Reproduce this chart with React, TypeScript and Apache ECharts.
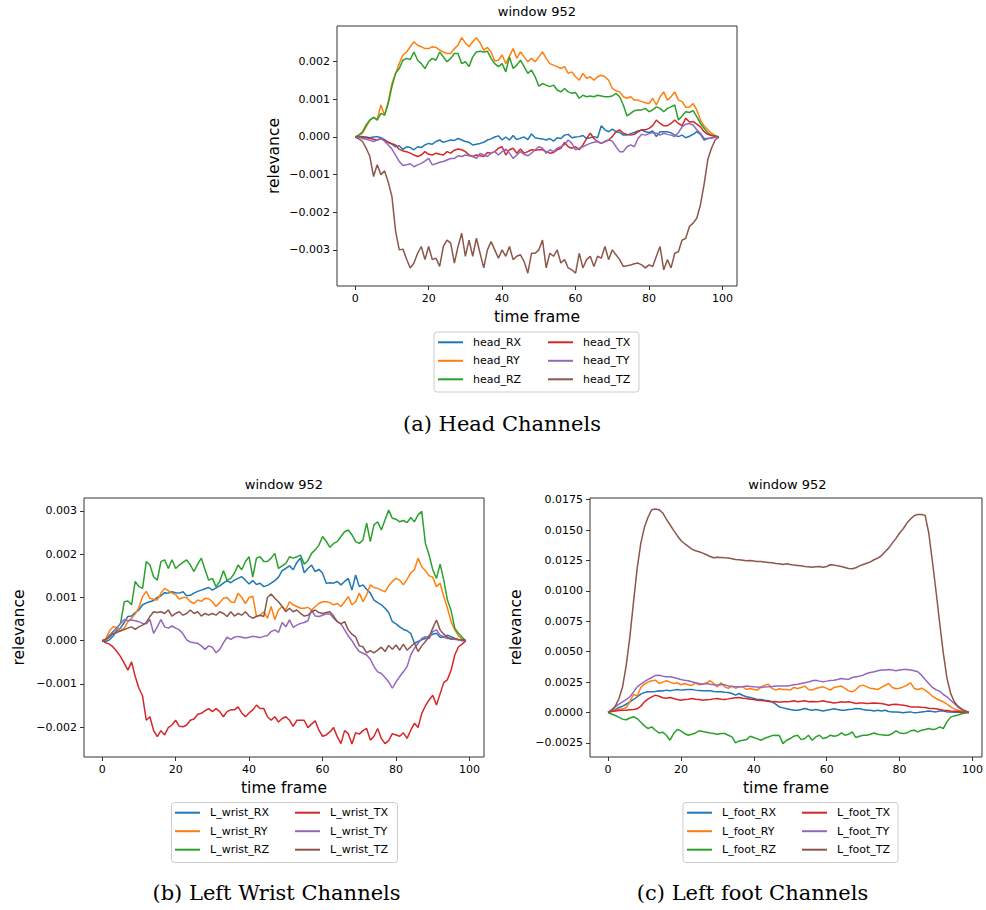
import React, { useEffect, useRef } from "react";
import * as echarts from "echarts";

// time-frame index of each sample (0..99)
const TIME_FRAMES = Array.from({ length: 100 }, (_, i) => i);

// all relevance values below are in units of 1e-5
const HEAD_NAMES = ["head_RX", "head_RY", "head_RZ", "head_TX", "head_TY", "head_TZ"];
const head_RX = [0,1,1,0,-2,0,1,-2,-7,-14,-19,-26,-23,-33,-26,-28,-34,-26,-28,-21,-17,-19,-12,-8,-14,-11,-8,-9,-4,-8,-12,-14,-21,-19,-17,-14,-8,-5,0,3,-8,0,-8,4,-7,-3,0,-7,8,-2,-4,
  -5,-8,-4,-11,-2,-4,5,7,-2,0,1,4,-4,-2,1,-2,30,19,14,21,14,12,5,5,9,12,16,19,14,12,16,1,14,14,14,11,5,1,5,-2,2,7,14,7,-8,-4,-3,-1,0];
const head_RY = [0,5,10,27,45,52,47,85,58,94,142,169,195,218,226,240,253,244,240,235,235,240,238,231,226,222,222,235,244,264,250,240,253,264,250,231,238,226,202,204,218,195,215,235,209,226,213,200,209,200,213,
  226,209,195,191,187,182,187,169,173,160,151,169,156,160,151,160,164,160,151,129,123,120,107,103,107,98,98,94,91,89,103,85,107,120,98,107,120,98,94,79,79,89,72,45,29,19,10,4,0];
const head_RZ = [0,5,14,32,45,52,45,63,58,89,134,169,182,204,209,206,226,204,195,182,200,209,204,226,213,200,209,222,222,195,200,187,213,226,228,226,228,209,195,187,195,173,213,182,191,204,187,169,178,160,135,
  142,138,134,138,125,120,129,120,116,118,103,111,107,109,107,111,109,107,107,109,116,107,85,56,63,70,72,72,76,67,72,80,76,67,76,80,85,45,56,67,65,70,54,36,23,11,5,3,0];
const head_TX = [0,0,-1,-2,-4,-6,-8,-4,-9,-14,-18,-21,-33,-37,-39,-43,-48,-52,-48,-39,-46,-48,-43,-46,-48,-39,-43,-35,-32,-34,-39,-48,-52,-48,-50,-52,-41,-43,-39,-30,-26,-48,-34,-30,-43,-32,-43,-39,-34,-35,-34,
  -34,-39,-43,-41,-34,-30,-14,-26,-30,-26,-34,-21,-4,10,-4,-12,-17,-12,-8,1,14,19,10,7,5,7,14,19,19,23,30,45,36,30,30,36,45,36,30,50,40,41,34,27,14,7,4,1,0];
const head_TY = [0,-1,-4,-6,-9,-12,-8,-4,-11,-21,-32,-48,-65,-76,-74,-71,-79,-74,-70,-64,-57,-74,-71,-67,-65,-61,-57,-57,-50,-52,-48,-50,-52,-57,-44,-48,-52,-43,-39,-48,-39,-32,-43,-57,-48,-39,-46,-50,-43,-34,-26,
  -30,-43,-34,-39,-30,-26,-21,-8,-17,-34,-30,-26,-21,-17,-14,-12,-17,-12,-8,-11,-26,-39,-39,-26,-21,-26,-4,7,5,9,12,10,5,10,7,5,1,12,27,34,36,32,19,10,-4,-4,-2,-1,0];
const head_TZ = [0,-5,-12,-30,-52,-105,-74,-100,-90,-120,-158,-250,-300,-298,-325,-348,-335,-309,-291,-326,-291,-326,-322,-344,-291,-274,-282,-335,-291,-256,-317,-274,-317,-269,-309,-348,-300,-278,-300,-322,-300,-317,-291,-326,-317,-313,-331,-362,-309,-309,-300,
  -274,-348,-309,-317,-300,-335,-326,-348,-353,-362,-309,-348,-326,-317,-344,-317,-322,-291,-326,-300,-313,-326,-344,-342,-340,-337,-335,-340,-348,-340,-344,-317,-291,-353,-326,-348,-309,-305,-274,-269,-238,-229,-216,-180,-125,-60,-30,-8,0];

const WRIST_NAMES = ["L_wrist_RX", "L_wrist_RY", "L_wrist_RZ", "L_wrist_TX", "L_wrist_TY", "L_wrist_TZ"];
const wrist_RX = [0,-2,2,11,23,29,42,56,57,65,71,83,87,90,93,100,104,111,110,113,111,110,113,104,105,110,114,117,120,123,117,122,127,133,139,134,140,144,148,140,131,139,130,133,125,128,133,139,147,162,167,
  173,164,181,191,157,167,175,160,165,156,133,134,133,137,129,137,144,117,152,125,129,119,110,94,88,83,75,65,44,39,32,26,23,17,-6,-2,2,5,11,15,17,8,8,13,9,5,2,0,0];
const wrist_RY = [0,5,23,32,31,22,29,44,52,62,77,102,114,98,96,94,110,121,116,110,107,96,100,100,90,86,94,91,98,97,90,79,88,98,100,90,88,110,100,86,100,103,57,59,67,52,79,49,71,79,71,
  90,83,79,75,75,77,71,79,86,90,90,88,83,86,79,90,102,83,90,110,90,106,129,123,121,117,113,127,137,144,140,129,142,157,164,191,171,162,150,147,125,133,102,75,44,25,11,4,0];
const wrist_RZ = [0,2,9,21,29,40,90,92,83,137,125,121,183,175,148,140,183,187,167,187,167,175,181,187,175,160,177,191,164,140,144,125,137,162,140,144,156,175,164,183,194,147,191,194,183,183,191,202,167,173,179,
  194,191,194,198,177,185,202,210,221,241,230,216,225,229,241,252,256,245,229,225,233,272,229,268,275,256,279,302,283,281,275,278,273,285,275,291,299,225,198,164,144,177,140,94,69,29,17,8,0];
const wrist_TX = [0,-5,-8,-15,-25,-37,-52,-68,-49,-83,-110,-128,-184,-176,-208,-222,-208,-218,-201,-195,-184,-198,-199,-195,-184,-181,-170,-168,-162,-157,-164,-157,-164,-176,-164,-160,-160,-153,-167,-176,-167,-160,-149,-157,-157,-176,-184,-176,-188,-180,-176,
  -184,-198,-184,-184,-184,-201,-193,-185,-207,-221,-218,-211,-201,-222,-238,-208,-215,-239,-213,-216,-208,-203,-230,-221,-203,-226,-238,-231,-215,-218,-221,-213,-226,-207,-191,-201,-168,-151,-137,-126,-149,-123,-97,-90,-68,-33,-14,-8,0];
const wrist_TY = [0,3,13,21,29,40,49,46,48,46,44,40,39,49,17,32,49,32,29,34,29,25,16,2,-3,-5,-6,-12,-20,-12,-15,-28,-20,-5,8,3,8,10,8,6,8,10,9,7,10,12,21,25,19,42,32,
  48,31,36,40,42,46,71,57,56,59,62,62,52,44,39,25,11,0,-14,-25,-29,-33,-43,-60,-72,-76,-85,-95,-110,-95,-83,-72,-60,-33,-18,-6,5,9,5,21,25,13,9,5,5,3,2,1,0];
const wrist_TZ = [0,3,9,16,19,23,26,29,32,26,32,36,42,56,67,65,67,63,71,57,63,67,59,63,71,63,67,57,63,59,63,59,67,63,56,67,57,63,59,67,57,52,56,59,56,100,108,98,90,79,67,
  75,67,71,63,57,59,67,71,65,63,65,67,57,44,39,44,25,15,9,-12,-14,-28,-23,-28,-22,-15,-25,-11,-20,-10,-22,-8,-22,-14,-6,-25,-12,-2,9,29,48,25,15,8,3,5,3,2,0];

const FOOT_NAMES = ["L_foot_RX", "L_foot_RY", "L_foot_RZ", "L_foot_TX", "L_foot_TY", "L_foot_TZ"];
const foot_RX = [0,13,24,41,52,68,88,107,129,151,165,170,170,173,178,176,184,178,184,189,184,187,189,189,184,181,178,178,178,173,170,170,167,165,156,143,156,140,129,123,
  115,107,107,101,96,88,68,46,38,30,24,19,19,24,33,24,19,24,19,13,19,24,30,24,19,19,24,27,33,30,24,19,19,13,19,13,19,8,5,5,2,-3,2,5,-3,0,5,8,13,8,5,13,13,5,5,2,2,2,2,0];
const foot_RY = [0,13,19,24,30,41,88,150,135,205,233,250,261,266,239,250,261,250,239,244,228,239,228,222,244,228,233,244,261,239,211,244,211,198,217,200,211,211,189,198,
  189,184,211,225,233,198,184,195,189,189,184,206,198,206,217,189,184,198,206,211,198,184,206,211,217,198,178,170,189,217,225,211,200,195,189,206,222,239,206,195,200,211,225,244,198,189,200,184,162,134,115,101,88,68,46,30,19,13,8,0];
const foot_RZ = [0,-12,-25,-40,-55,-60,-45,-35,-50,-80,-110,-132,-118,-146,-168,-162,-187,-228,-173,-140,-151,-173,-187,-179,-168,-151,-157,-162,-168,-173,-179,-173,-173,-187,-201,-250,-234,-228,-223,-195,
  -206,-217,-228,-212,-201,-190,-187,-190,-256,-228,-214,-195,-187,-223,-214,-187,-228,-201,-187,-214,-206,-187,-195,-190,-168,-187,-179,-159,-206,-195,-187,-187,-179,-168,-179,-184,-187,-187,-173,-151,-168,-173,-168,-151,-146,-159,-146,-140,-132,-140,-135,-118,-132,-75,-38,-28,-20,-10,-5,0];
const foot_TX = [0,8,13,16,19,19,22,24,30,52,88,112,129,143,134,121,118,123,115,107,101,107,109,115,109,107,101,104,107,112,115,109,107,112,118,121,123,118,115,109,
  107,101,99,96,90,88,90,85,88,88,90,96,88,93,96,88,90,88,90,96,88,85,79,82,88,85,88,82,74,79,79,74,77,79,77,74,68,60,66,68,63,60,55,46,46,46,43,41,35,33,30,24,19,16,13,11,8,5,5,0];
const foot_TY = [0,24,46,68,88,107,129,170,211,233,253,272,288,305,307,299,294,294,288,280,272,266,261,253,244,239,233,239,233,228,225,231,228,217,214,211,211,211,217,214,
  211,209,206,209,211,214,217,217,217,217,222,228,233,239,244,250,261,266,258,253,258,264,266,272,280,275,272,288,294,299,307,321,329,335,343,349,349,354,349,343,349,354,354,349,343,335,307,272,239,206,187,176,148,129,101,74,46,24,11,0];
const foot_TZ = [0,19,52,115,212,390,624,912,1187,1393,1525,1608,1668,1674,1668,1641,1591,1544,1498,1454,1415,1388,1366,1344,1330,1322,1311,1297,1283,1272,1277,1275,1272,1270,1264,1258,1256,1253,1248,1250,1245,1242,1242,1237,1234,1231,1226,1223,1217,1223,1217,
  1212,1209,1206,1201,1198,1195,1198,1201,1195,1201,1215,1212,1206,1201,1193,1184,1182,1190,1206,1217,1228,1239,1256,1270,1289,1322,1352,1393,1432,1476,1511,1558,1591,1618,1629,1629,1621,1476,1242,995,734,486,280,157,88,52,30,14,0];

const X_TICKS = [0, 20, 40, 60, 80, 100];
const HEAD_Y_TICKS = [-300, -200, -100, 0, 100, 200];
const WRIST_Y_TICKS = [-200, -100, 0, 100, 200, 300];
const FOOT_Y_TICKS = [-250, 0, 250, 500, 750, 1000, 1250, 1500, 1750];

const COLORS = ["#1f77b4", "#ff7f0e", "#2ca02c", "#d62728", "#9467bd", "#8c564b"];
const SANS = "DejaVu Sans";

const fmt = (dec: number) => (v: number) => {
  const s = Math.abs(v / 100000).toFixed(dec);
  return v < 0 ? "\u2212" + s : s;
};

function mkSeries(names: string[], data: number[][], idx: number) {
  return names.map((n, k) => ({
    name: n,
    type: "line",
    xAxisIndex: idx,
    yAxisIndex: idx,
    data: TIME_FRAMES.map((t, i) => [t, data[k][i]]),
    symbol: "none",
    showSymbol: false,
    silent: true,
    lineStyle: { width: 1.5, color: COLORS[k] },
    itemStyle: { color: COLORS[k] },
    emphasis: { disabled: true },
  }));
}

function xAxis(idx: number, max: number) {
  return {
    type: "value",
    gridIndex: idx,
    min: -4.95,
    max,
    name: "time frame",
    nameLocation: "middle",
    nameGap: 23,
    nameTextStyle: { fontSize: 15.5, fontFamily: SANS, color: "#000" },
    axisLine: { show: false, onZero: false },
    axisTick: { show: true, inside: false, length: 4, lineStyle: { color: "#333" }, customValues: X_TICKS },
    axisLabel: { fontSize: 11, fontFamily: SANS, color: "#000", margin: 7, customValues: X_TICKS },
    splitLine: { show: false },
  };
}

function yAxis(idx: number, min: number, max: number, ticks: number[], dec: number, gap: number) {
  return {
    type: "value",
    gridIndex: idx,
    min,
    max,
    name: "relevance",
    nameLocation: "middle",
    nameGap: gap,
    nameTextStyle: { fontSize: 15.5, fontFamily: SANS, color: "#000" },
    axisLine: { show: false, onZero: false },
    axisTick: { show: true, inside: false, length: 4, lineStyle: { color: "#333" }, customValues: ticks },
    axisLabel: { fontSize: 11, fontFamily: SANS, color: "#000", margin: 7, customValues: ticks, formatter: fmt(dec) },
    splitLine: { show: false },
  };
}

function legend(names: string[], left: number, top: number) {
  return {
    orient: "vertical",
    left,
    top,
    padding: 0,
    itemGap: 4.5,
    itemWidth: 25,
    itemHeight: 2,
    icon: "rect",
    selectedMode: false,
    data: names,
    textStyle: { fontSize: 11, fontFamily: SANS, color: "#000", lineHeight: 14, padding: [0, 0, 0, 5] },
    z: 10,
  };
}

const titleStyle = { fontSize: 13, fontWeight: "normal", fontFamily: SANS, color: "#000" };

export default function App() {
  const ref = useRef<HTMLDivElement>(null);
  useEffect(() => {
    document.body.style.margin = "0";
    if (!ref.current) return;
    const chart = echarts.init(ref.current, null, { renderer: "svg" });
    const gridBase = { show: true, borderColor: "#333", borderWidth: 1, containLabel: false };
    chart.setOption({
      animation: false,
      backgroundColor: "#fff",
      title: [
        { text: "window 952", left: 537, top: 5, textAlign: "center", padding: 0, textStyle: titleStyle },
        { text: "window 952", left: 284, top: 478, textAlign: "center", padding: 0, textStyle: titleStyle },
        { text: "window 952", left: 787.5, top: 478, textAlign: "center", padding: 0, textStyle: titleStyle },
      ],
      grid: [
        { ...gridBase, left: 337, top: 26, width: 400, height: 260 },
        { ...gridBase, left: 84, top: 498, width: 400, height: 259 },
        { ...gridBase, left: 590, top: 498, width: 395, height: 259 },
      ],
      xAxis: [xAxis(0, 103.95), xAxis(1, 103.95), xAxis(2, 102.6)],
      yAxis: [
        yAxis(0, -396, 295, HEAD_Y_TICKS, 3, 55),
        yAxis(1, -269, 330, WRIST_Y_TICKS, 3, 57),
        yAxis(2, -366, 1764, FOOT_Y_TICKS, 4, 66),
      ],
      legend: [
        legend(HEAD_NAMES.slice(0, 3), 438, 335.3),
        legend(HEAD_NAMES.slice(3), 548, 335.3),
        legend(WRIST_NAMES.slice(0, 3), 175, 805.7),
        legend(WRIST_NAMES.slice(3), 295, 805.7),
        legend(FOOT_NAMES.slice(0, 3), 687, 805.7),
        legend(FOOT_NAMES.slice(3), 802, 805.7),
      ],
      graphic: [
        { type: "rect", z: 1, shape: { x: 434, y: 332, width: 205, height: 60, r: 3 }, style: { fill: "#fff", stroke: "#ccc", lineWidth: 1 } },
        { type: "rect", z: 1, shape: { x: 171.5, y: 802.5, width: 226, height: 60, r: 3 }, style: { fill: "#fff", stroke: "#ccc", lineWidth: 1 } },
        { type: "rect", z: 1, shape: { x: 683, y: 802.5, width: 215, height: 60, r: 3 }, style: { fill: "#fff", stroke: "#ccc", lineWidth: 1 } },
        { type: "text", z: 1, x: 502, y: 424, style: { text: "(a) Head Channels", fontSize: 21, fontFamily: "DejaVu Serif", fill: "#000", textAlign: "center", textVerticalAlign: "middle" } },
        { type: "text", z: 1, x: 276.5, y: 893, style: { text: "(b) Left Wrist Channels", fontSize: 21, fontFamily: "DejaVu Serif", fill: "#000", textAlign: "center", textVerticalAlign: "middle" } },
        { type: "text", z: 1, x: 752.5, y: 893, style: { text: "(c) Left foot Channels", fontSize: 21, fontFamily: "DejaVu Serif", fill: "#000", textAlign: "center", textVerticalAlign: "middle" } },
      ],
      series: [
        ...mkSeries(HEAD_NAMES, [head_RX, head_RY, head_RZ, head_TX, head_TY, head_TZ], 0),
        ...mkSeries(WRIST_NAMES, [wrist_RX, wrist_RY, wrist_RZ, wrist_TX, wrist_TY, wrist_TZ], 1),
        ...mkSeries(FOOT_NAMES, [foot_RX, foot_RY, foot_RZ, foot_TX, foot_TY, foot_TZ], 2),
      ],
    });
    return () => chart.dispose();
  }, []);
  return <div ref={ref} style={{ width: 986, height: 910 }} />;
}
